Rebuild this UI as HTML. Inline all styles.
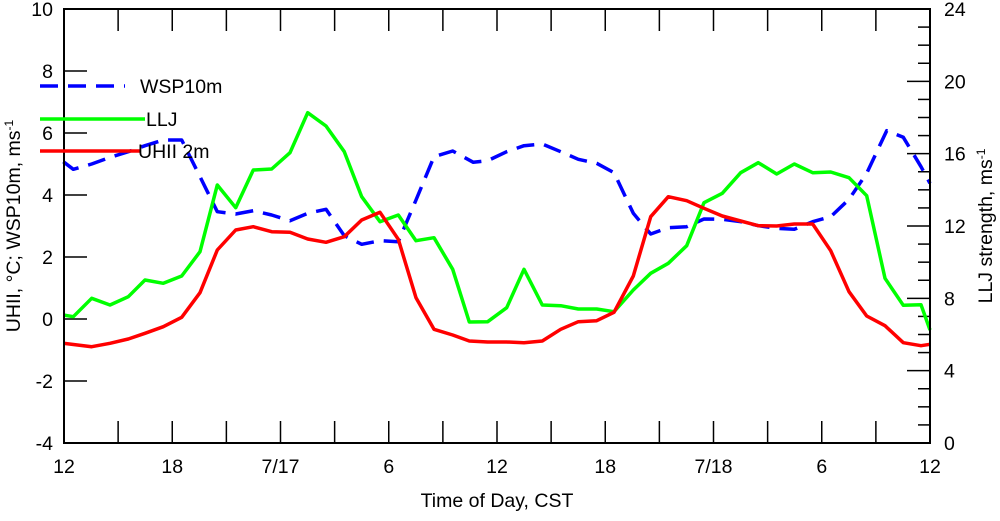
<!DOCTYPE html>
<html><head><meta charset="utf-8"><style>
body{margin:0;background:#fff}
svg text{font-family:"Liberation Sans",sans-serif;font-size:19.5px;fill:#000}
</style></head><body>
<svg id="s" width="1000" height="516" xmlns="http://www.w3.org/2000/svg">
<g id="ticks" stroke="#000" stroke-width="1.5"></g>
<g id="lines" fill="none" stroke-width="3.5" stroke-linejoin="round"></g>
<rect x="64" y="9" width="866" height="434" fill="none" stroke="#000" stroke-width="2"/>
<g id="labels"></g>
<line x1="40" y1="86" x2="125" y2="86" stroke="#00f" stroke-width="3.5" stroke-dasharray="18,10"/>
<text x="140" y="93" style="font-size:19.5px">WSP10m</text>
<line x1="40" y1="119" x2="145" y2="119" stroke="#0f0" stroke-width="3.5"/>
<text x="146" y="126" style="font-size:19.5px">LLJ</text>
<line x1="40" y1="151" x2="140" y2="151" stroke="#f00" stroke-width="3.5"/>
<text x="138" y="158" style="font-size:19.5px">UHII 2m</text>
<text x="497" y="507" text-anchor="middle">Time of Day, CST</text>
<text transform="translate(20,226) rotate(-90)" text-anchor="middle">UHII, °C; WSP10m, ms<tspan dy="-7" style="font-size:12px">-1</tspan></text>
<text transform="translate(992,226) rotate(-90)" text-anchor="middle">LLJ strength, ms<tspan dy="-7" style="font-size:12px">-1</tspan></text>
</svg>
<script>
const NS="http://www.w3.org/2000/svg";
function el(p,t,a,txt){const e=document.createElementNS(NS,t);for(const k in a)e.setAttribute(k,a[k]);if(txt!=null)e.textContent=txt;document.getElementById(p).appendChild(e);}
const xl=["12","18","7/17","6","12","18","7/18","6","12"];
for(let i=0;i<=16;i++){const x=64+i*54.125;el("ticks","line",{x1:x,y1:9,x2:x,y2:31});el("ticks","line",{x1:x,y1:443,x2:x,y2:421});
if(i%2==0)el("labels","text",{x:x,y:473,"text-anchor":"middle"},xl[i/2]);}
for(let v=-4;v<=10;v+=2){const y=319-v*31;el("ticks","line",{x1:64,y1:y,x2:87,y2:y});el("labels","text",{x:53,y:y+7,"text-anchor":"end"},v);}
for(let v=0;v<=24;v++){const y=443-v*18.083;el("ticks","line",{x1:930,y1:y,x2:v%4==0?907:918,y2:y});if(v%4==0)el("labels","text",{x:944,y:y+7},v);}
function pts(a,ox){return a.map(p=>(ox+p[0]/3).toFixed(1)+","+(p[1]/3).toFixed(1));}
const g1=[[10,945],[40,950],[95,895],[150,915],[205,890],[255,840],[310,850],[365,828],[420,755],[472,555],[527,623],[580,510],[635,507],[690,458],[743,338],[798,378],[853,455],[905,590],[960,665],[1015,645],[1068,722],[1122,713],[1178,808],[1228,966],[1283,965]];
const g2=[[50,923],[102,808],[157,915],[212,917],[265,927],[320,927],[372,935],[430,870],[482,820],[535,790],[590,737],[642,608],[697,580],[752,518],[805,488],[860,522],[913,492],[968,518],[1022,516],[1077,533],[1130,587],[1185,835],[1240,916],[1293,914],[1320,990]];
const r1=[[10,1030],[95,1040],[150,1030],[205,1017],[255,1000],[310,980],[365,952],[420,878],[472,750],[527,690],[580,680],[635,695],[690,697],[743,717],[798,727],[853,710],[905,660],[960,637],[1015,718],[1068,893],[1122,988],[1178,1005],[1228,1023],[1283,1026]];
const r2=[[50,1026],[102,1028],[157,1023],[212,988],[265,965],[320,962],[372,937],[430,828],[482,650],[535,590],[590,602],[642,625],[697,648],[752,663],[805,677],[860,678],[913,672],[968,672],[1022,752],[1077,875],[1130,948],[1185,977],[1240,1028],[1293,1037],[1320,1033]];
const b1=[[10,485],[40,508],[95,492],[150,472],[205,455],[255,437],[310,420],[365,420],[420,530],[472,635],[527,642],[580,632],[635,645],[690,662],[743,640],[798,628],[853,707],[905,733],[960,722],[1015,725],[1068,600],[1122,470],[1178,453],[1240,487],[1283,482]];
const b2=[[50,455],[102,437],[157,432],[212,455],[265,478],[320,490],[372,518],[430,640],[482,702],[535,683],[590,680],[642,657],[697,658],[752,665],[805,677],[860,685],[913,688],[968,665],[1022,650],[1077,598],[1130,520],[1190,392],[1240,412],[1293,500],[1320,550]];
function line(a,b,c,d){el("lines","polyline",Object.assign({points:pts(a,60).concat(pts(b,490)).join(" "),stroke:c},d||{}));}
line(b1,b2,"#00f",{"stroke-dasharray":"18,10"});
line(g1,g2,"#0f0");
line(r1,r2,"#f00");
</script>
</body></html>
